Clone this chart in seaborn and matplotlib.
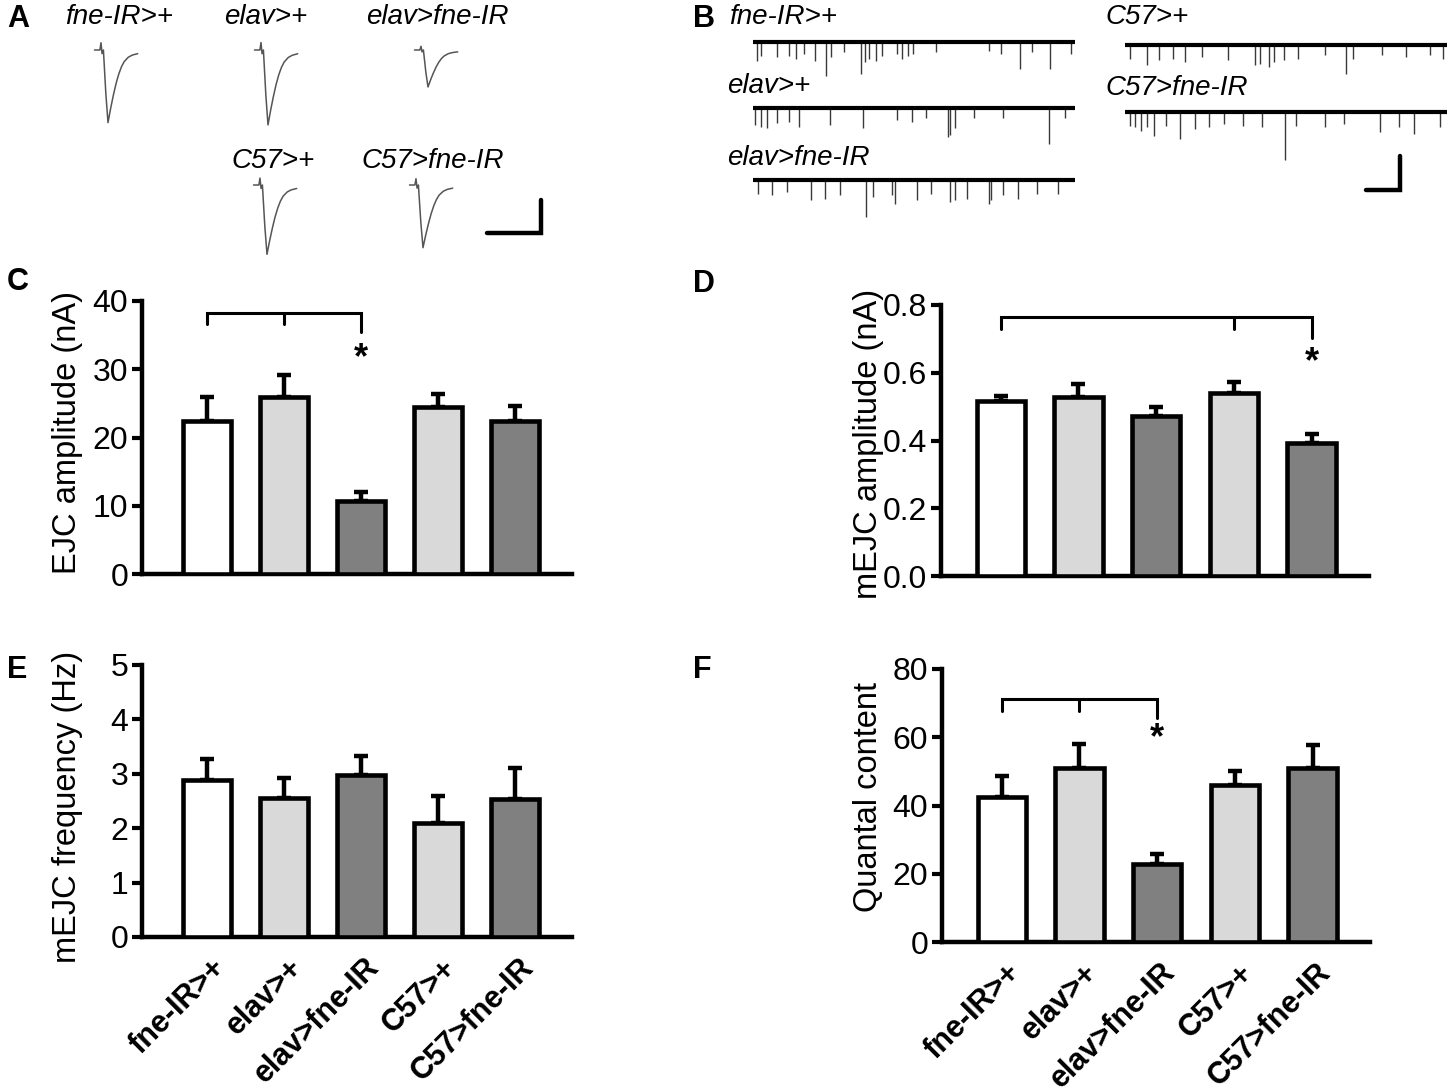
import numpy as np
import pandas as pd
import matplotlib
matplotlib.use("Agg")
import matplotlib.pyplot as plt
import matplotlib.transforms as mtrans
import seaborn as sns

# ---------------- data ----------------
genotypes = ["fne-IR>+", "elav>+", "elav>fne-IR", "C57>+", "C57>fne-IR"]
bar_colors = ["#ffffff", "#d9d9d9", "#808080", "#d9d9d9", "#808080"]

ejc_mean = [22.4, 25.95, 10.7, 24.4, 22.4]
ejc_upper = [26.0, 29.2, 11.95, 26.4, 24.6]

mejc_amp_mean = [0.518, 0.528, 0.472, 0.539, 0.394]
mejc_amp_upper = [0.531, 0.566, 0.500, 0.574, 0.418]

mejc_freq_mean = [2.89, 2.56, 2.97, 2.09, 2.54]
mejc_freq_upper = [3.27, 2.92, 3.32, 2.60, 3.10]

quantal_mean = [42.6, 50.9, 23.0, 46.0, 50.9]
quantal_upper = [48.7, 58.1, 25.7, 50.2, 57.8]

# example EJC traces (panel A): peak amplitude in nA, normalised template
ejc_trace_names = ["fne-IR>+", "elav>+", "elav>fne-IR", "C57>+", "C57>fne-IR"]
ejc_trace_amp = [22.0, 22.7, 11.2, 21.0, 19.0]
ejc_t_ms = [0, 2.0, 2.4, 2.8, 3.3, 4.2, 5.0, 6.0, 7.0, 8.0, 9.0, 10.0, 11.0, 12.5, 14.0, 16.0]
ejc_shape = [0, 0, 0.1, -0.05, 0, -0.6, -1.0, -0.8, -0.62, -0.46, -0.33, -0.23, -0.16, -0.1,
             -0.07, -0.05]

# example mEJC traces (panel B): event times (s) and amplitudes (nA)
mejc_names = ["fne-IR>+", "elav>+", "elav>fne-IR", "C57>+", "C57>fne-IR"]
mejc_t = [
    [0.11, 0.25, 0.71, 1.06, 1.27, 1.49, 1.81, 2.15, 2.29, 2.69, 3.18, 3.28, 3.42, 3.61, 3.79,
     4.24, 4.38, 4.55, 4.70, 5.37, 6.93, 7.28, 7.85, 8.20, 8.74, 9.34],
    [0.07, 0.25, 0.42, 0.71, 1.06, 1.34, 2.26, 3.25, 4.24, 4.67, 5.09, 5.73, 5.80, 5.94, 6.51,
     7.36, 8.70, 9.19],
    [0.14, 0.57, 0.99, 1.70, 2.12, 2.55, 3.32, 3.54, 4.10, 4.17, 4.81, 5.23, 5.80, 5.94, 6.29,
     6.93, 7.00, 7.36, 7.78, 8.35, 8.98],
    [0.14, 0.64, 0.99, 1.41, 1.77, 2.26, 3.04, 3.82, 3.96, 4.24, 4.38, 4.67, 5.09, 5.87, 6.51,
     6.72, 7.57, 8.27, 8.98, 9.34],
    [0.14, 0.28, 0.47, 0.64, 0.85, 1.20, 1.63, 2.05, 2.48, 2.90, 3.47, 4.03, 4.71, 5.02, 5.87,
     6.44, 7.50, 8.06, 8.49, 9.26],
]
mejc_a = [
    [0.55, 0.4, 0.45, 0.4, 0.5, 0.35, 0.55, 1.0, 0.45, 0.3, 0.95, 0.6, 0.5, 0.55, 0.4,
     0.35, 0.5, 0.4, 0.35, 0.3, 0.25, 0.35, 0.8, 0.3, 0.8, 0.35],
    [0.5, 0.55, 0.6, 0.45, 0.4, 0.55, 0.5, 0.6, 0.35, 0.4, 0.3, 0.85, 0.8, 0.6, 0.3,
     0.3, 1.05, 0.3],
    [0.4, 0.45, 0.35, 0.6, 0.55, 0.45, 1.1, 0.5, 0.45, 0.7, 0.6, 0.4, 0.65, 0.6, 0.55,
     0.7, 0.6, 0.45, 0.55, 0.4, 0.4],
    [0.4, 0.6, 0.45, 0.4, 0.5, 0.35, 0.45, 0.6, 0.55, 0.65, 0.5, 0.45, 0.4, 0.3, 0.85,
     0.4, 0.3, 0.35, 0.3, 0.4],
    [0.4, 0.45, 0.55, 0.45, 0.7, 0.4, 0.8, 0.5, 0.45, 0.35, 0.4, 0.45, 1.4, 0.4, 0.45,
     0.35, 0.6, 0.45, 0.65, 0.45],
]
mejc_duration_s = 9.47

# ---------------- style ----------------
sns.set_style("ticks")
plt.rcParams["font.family"] = ["Liberation Sans", "DejaVu Sans"]
plt.rcParams.update({
    "axes.linewidth": 3.0,
    "text.color": "black",
    "axes.edgecolor": "black",
    "axes.labelcolor": "black",
    "xtick.color": "black",
    "ytick.color": "black",
})

W, H = 1450, 1092
fig = plt.figure(figsize=(W / 100, H / 100), dpi=100)


def rect(l, t, r, b):
    return [l / W, 1 - b / H, (r - l) / W, (b - t) / H]


# overlay axes in pixel coordinates for the trace panels
ov = fig.add_axes([0, 0, 1, 1])
ov.set_xlim(0, W)
ov.set_ylim(H, 0)
ov.axis("off")

# ---------- panel A ----------
PX_MS, PX_NA = 2.7, 3.3
a_layout = [(108, 50), (268, 50), (428, 50), (267, 185), (423, 185)]
a_label_pos = [(119, 17), (266, 17), (437, 17), (273, 161), (433, 161)]
for name, amp, (mx, base), (lx, ly) in zip(ejc_trace_names, ejc_trace_amp, a_layout, a_label_pos):
    x0 = mx - 5.0 * PX_MS
    xs = x0 + np.array(ejc_t_ms) * PX_MS
    ys = base - np.array(ejc_shape) * amp * PX_NA
    ov.plot(xs, ys, color="#555555", lw=1.1)
    ov.text(lx, ly, name, ha="center", va="center", fontsize=20, style="italic")
# scale bar A: 10 nA, 20 ms
ov.plot([541 - 20 * PX_MS, 541, 541], [233, 233, 233 - 10 * PX_NA], color="black", lw=3.2,
        solid_joinstyle="miter")

# ---------- panel B ----------
PX_S, PX_NA_B = 34.0, 34.0
b_layout = [(753, 42), (753, 108), (753, 180), (1125, 45), (1125, 112)]
b_label_pos = [(729, 17), (727, 86), (727, 158), (1105, 17), (1105, 88)]
for name, ts, amps, (x0, base), (lx, ly) in zip(mejc_names, mejc_t, mejc_a, b_layout, b_label_pos):
    ts = np.array(ts)
    amps = np.array(amps)
    ov.vlines(x0 + ts * PX_S, base, base + amps * PX_NA_B, color="#3a3a3a", lw=1.0)
    ov.plot([x0, x0 + mejc_duration_s * PX_S], [base, base], color="black", lw=3.0,
            solid_capstyle="butt")
    ov.text(lx, ly, name, ha="left", va="center", fontsize=20, style="italic")
ov.plot([1400 - 1 * PX_S, 1400, 1400], [190, 190, 190 - 1 * PX_NA_B], color="black", lw=3.2,
        solid_joinstyle="miter")

# panel letters
for letter, (lx, ly) in zip("ABCDEF", [(7, 19), (693, 19), (7, 282), (693, 284), (7, 670), (693, 670)]):
    ov.text(lx, ly, letter, ha="left", va="center", fontsize=22, fontweight="bold")


# ---------- bar panels ----------
def bar_panel(r, means, uppers, ylim, yticks, fmt, xlim, ylabel, ylab_xy, show_x, xfs):
    ax = fig.add_axes(rect(*r))
    df = pd.DataFrame({"genotype": genotypes, "value": means})
    sns.barplot(data=df, x="genotype", y="value", hue="genotype", palette=bar_colors,
                legend=False, width=0.62, edgecolor="black", linewidth=3.3, ax=ax, zorder=3)
    means = np.array(means)
    uppers = np.array(uppers)
    ax.errorbar(np.arange(len(means)), means, yerr=[np.zeros(len(means)), uppers - means],
                fmt="none", ecolor="black", elinewidth=3.2, capsize=5, capthick=3.2, zorder=2)
    ax.set_xlim(*xlim)
    ax.set_ylim(*ylim)
    ax.set_yticks(yticks)
    ax.set_yticklabels([fmt.format(v) for v in yticks], fontsize=23)
    ax.tick_params(axis="y", length=7, width=3, direction="out", pad=3)
    ax.tick_params(axis="x", length=0)
    sns.despine(ax=ax)
    ax.spines["left"].set_linewidth(3.2)
    ax.spines["bottom"].set_linewidth(3.2)
    ax.set_xlabel("")
    ax.set_ylabel("")
    if show_x:
        ax.set_xticks(range(len(genotypes)))
        ax.set_xticklabels(genotypes, rotation=45, ha="right", va="center",
                           rotation_mode="anchor", fontsize=xfs, fontweight="bold")
        ax.tick_params(axis="x", pad=16)
        off = mtrans.ScaledTranslation(14 / 100, -4 / 100, fig.dpi_scale_trans)
        for lbl in ax.get_xticklabels():
            lbl.set_transform(lbl.get_transform() + off)
    else:
        ax.set_xticks([])
    ax.patch.set_alpha(0)
    fig.text(ylab_xy[0] / W, 1 - ylab_xy[1] / H, ylabel, rotation=90, ha="center",
             va="center", fontsize=23.5)
    return ax


def bracket(ax, x_left, x_mid, x_right, y, leg, leg_right, star_y):
    ax.plot([x_left, x_left, x_right, x_right], [leg, y, y, leg_right], color="black", lw=2.2,
            clip_on=False, solid_joinstyle="miter")
    ax.plot([x_mid, x_mid], [y, leg], color="black", lw=2.2, clip_on=False)
    ax.text(x_right, star_y, "*", ha="center", va="center", fontsize=26, fontweight="bold")


axC = bar_panel((142, 301, 572, 574), ejc_mean, ejc_upper, (0, 40), [0, 10, 20, 30, 40], "{:g}",
                (-0.84, 4.74), "EJC amplitude (nA)", (68, 433), False, 22)
bracket(axC, 0, 1, 2, 38.2, 36.7, 35.5, 31.6)

axD = bar_panel((941, 305, 1369, 576), mejc_amp_mean, mejc_amp_upper, (0, 0.8),
                [0.0, 0.2, 0.4, 0.6, 0.8], "{:.1f}", (-0.77, 4.74), "mEJC amplitude (nA)",
                (868, 444), False, 22)
bracket(axD, 0, 3, 4, 0.764, 0.728, 0.704, 0.63)

axE = bar_panel((142, 665, 572, 937), mejc_freq_mean, mejc_freq_upper, (0, 5), [0, 1, 2, 3, 4, 5],
                "{:g}", (-0.84, 4.74), "mEJC frequency (Hz)", (68, 807), True, 22)

axF = bar_panel((942, 669, 1370, 942), quantal_mean, quantal_upper, (0, 80), [0, 20, 40, 60, 80],
                "{:g}", (-0.77, 4.74), "Quantal content", (868, 797), True, 22)
bracket(axF, 0, 1, 2, 71.2, 67.8, 65.6, 59.5)

fig.savefig("out.png", dpi=100)
